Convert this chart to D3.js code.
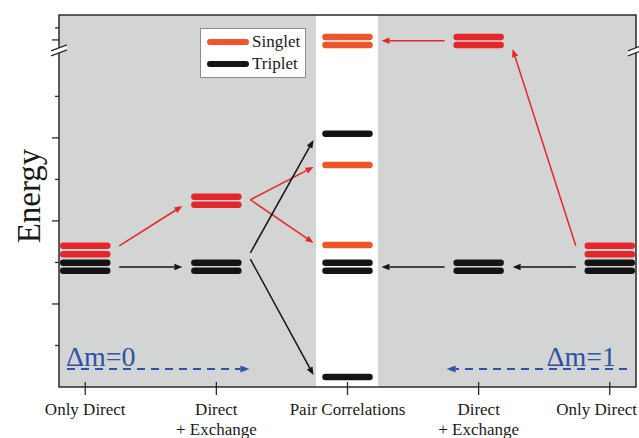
<!DOCTYPE html>
<html><head><meta charset="utf-8">
<script src="https://cdn.jsdelivr.net/npm/d3@7"></script>
<style>html,body{margin:0;padding:0;background:#fff;}svg{display:block;}</style>
</head><body>
<svg id="c" width="639" height="438"></svg>
<script>
// ---- data ----
const categories = ["OD_L", "DE_L", "PC", "DE_R", "OD_R"];
const categoryLabels = [["Only Direct"], ["Direct", "+ Exchange"], ["Pair Correlations"], ["Direct", "+ Exchange"], ["Only Direct"]];
const singletLevels = [[3.40, 3.20], [4.58, 4.39], [8.43, 8.24, 5.35, 3.42], [8.43, 8.24], [3.40, 3.20]];
const tripletLevels = [[2.99, 2.80], [2.99, 2.80], [6.10, 2.99, 2.80, 0.24], [2.99, 2.80], [2.99, 2.80]];
const arrows = [
  {from: "OD_L", e0: 2.89, to: "DE_L", e1: 2.89, kind: "T"},
  {from: "OD_L", e0: 3.40, to: "DE_L", e1: 4.36, kind: "S"},
  {from: "DE_L", e0: 4.51, to: "PC", e1: 5.30, kind: "S"},
  {from: "DE_L", e0: 4.51, to: "PC", e1: 3.47, kind: "S"},
  {from: "DE_L", e0: 3.23, to: "PC", e1: 5.95, kind: "T"},
  {from: "DE_L", e0: 3.08, to: "PC", e1: 0.29, kind: "T"},
  {from: "DE_R", e0: 8.34, to: "PC", e1: 8.34, kind: "S"},
  {from: "OD_R", e0: 3.40, to: "DE_R", e1: 8.14, kind: "S"},
  {from: "OD_R", e0: 2.89, to: "DE_R", e1: 2.89, kind: "T"},
  {from: "DE_R", e0: 2.89, to: "PC", e1: 2.89, kind: "T"}
];
const majorTicks = [2, 4, 6, 8.36];
const minorTicks = [1, 3, 5, 7, 8.65];
const breakValue = 8.05;
const legendItems = ["Singlet", "Triplet"];
const deltaLabels = ["\u0394m=0", "\u0394m=1"];
const deltaSpans = [["OD_L", "DE_L"], ["OD_R", "DE_R"]];
const yDomain = [0, 8.96];

// ---- layout ----
const svg = d3.select("#c");
const W = 639;
const L = 59, R = 636, T = 15, B = 387;
const x = d3.scalePoint().domain(categories).range([L, R]).padding(0.2);
const y = d3.scaleLinear().domain(yDomain).range([B, T]);
const serif = "'Liberation Serif','DejaVu Serif',serif";
const red = "#e5272b", orange = "#ef552b", black = "#141414", blue = "#2f52a6";

svg.append("defs").append("clipPath").attr("id", "pc")
  .append("rect").attr("x", L).attr("y", T).attr("width", R - L).attr("height", B - T);

svg.append("rect").attr("x", L).attr("y", T).attr("width", R - L).attr("height", B - T).attr("fill", "#d3d4d4");
const bw = 62;
svg.append("rect").attr("x", x("PC") - bw / 2 - 0.5).attr("y", T).attr("width", bw).attr("height", B - T).attr("fill", "#ffffff");

const g = svg.append("g").attr("clip-path", "url(#pc)");
const half = 22;
function drawLevels(levels, colorFn) {
  categories.forEach((c, i) => {
    levels[i].forEach(e => {
      g.append("line").attr("x1", x(c) - half).attr("x2", x(c) + half)
        .attr("y1", y(e)).attr("y2", y(e))
        .attr("stroke", colorFn(c)).attr("stroke-width", 6.5).attr("stroke-linecap", "round");
    });
  });
}
drawLevels(singletLevels, c => c === "PC" ? orange : red);
drawLevels(tripletLevels, () => black);

function arrow(x0, y0, x1, y1, color, w, dash, head) {
  const ang = Math.atan2(y1 - y0, x1 - x0);
  const hl = head || 8, hw = (head || 8) * 0.4;
  const bx = x1 - hl * Math.cos(ang), by = y1 - hl * Math.sin(ang);
  svg.append("line").attr("x1", x0).attr("y1", y0).attr("x2", bx).attr("y2", by)
    .attr("stroke", color).attr("stroke-width", w).attr("stroke-dasharray", dash || null);
  const px = -Math.sin(ang) * hw, py = Math.cos(ang) * hw;
  svg.append("path").attr("d", `M${x1},${y1}L${bx + px},${by + py}L${bx - px},${by - py}Z`).attr("fill", color);
}
arrows.forEach(a => {
  const dir = Math.sign(x(a.to) - x(a.from));
  const x0 = x(a.from) + dir * 34, x1 = x(a.to) - dir * 34;
  arrow(x0, y(a.e0), x1, y(a.e1), a.kind === "S" ? red : black, 1.5, null, 8);
});

// frame
svg.append("rect").attr("x", L).attr("y", T).attr("width", R - L).attr("height", B - T)
  .attr("fill", "none").attr("stroke", "#2a2a2a").attr("stroke-width", 1.5);

// y ticks
majorTicks.forEach(t => svg.append("line").attr("x1", L - 7).attr("x2", L).attr("y1", y(t)).attr("y2", y(t)).attr("stroke", "#2a2a2a").attr("stroke-width", 1.3));
minorTicks.forEach(t => svg.append("line").attr("x1", L - 4).attr("x2", L).attr("y1", y(t)).attr("y2", y(t)).attr("stroke", "#2a2a2a").attr("stroke-width", 1.3));

// axis breaks
[L, R].forEach(ax => {
  const yb = y(breakValue);
  svg.append("path").attr("d", `M${ax - 8},${yb + 3}L${ax + 8},${yb - 3}L${ax + 8},${yb - 8}L${ax - 8},${yb - 2}Z`).attr("fill", "#ffffff");
  [0, -5].forEach(o => svg.append("line").attr("x1", ax - 8).attr("x2", ax + 8).attr("y1", yb + 3 + o).attr("y2", yb - 3 + o)
    .attr("stroke", "#2a2a2a").attr("stroke-width", 1.3));
});

// x ticks and labels
categories.forEach((c, i) => {
  svg.append("line").attr("x1", x(c)).attr("x2", x(c)).attr("y1", B - 5).attr("y2", B + 8).attr("stroke", "#2a2a2a").attr("stroke-width", 1.3);
  categoryLabels[i].forEach((s, k) => {
    const t = svg.append("text").attr("x", x(c)).attr("y", 415 + k * 20).attr("text-anchor", "middle")
      .attr("font-family", serif).attr("font-size", 17).attr("fill", "#1a1a1a").text(s);
    const w = t.node().getComputedTextLength();
    if (x(c) + w / 2 > W - 2) t.attr("x", W - 2 - w / 2);
  });
});

// y label
svg.append("text").attr("transform", `translate(40,${y(4.6)}) rotate(-90)`).attr("text-anchor", "middle")
  .attr("font-family", serif).attr("font-size", 33).attr("fill", "#1a1a1a").text("Energy");

// legend
const lg = svg.append("g");
lg.append("rect").attr("x", 200.5).attr("y", 28.5).attr("width", 105).attr("height", 49).attr("fill", "#fff").attr("stroke", "#8a8a8a").attr("stroke-width", 1);
legendItems.forEach((s, i) => {
  const ly = 42 + i * 22;
  lg.append("line").attr("x1", 210).attr("x2", 246).attr("y1", ly).attr("y2", ly)
    .attr("stroke", i === 0 ? orange : black).attr("stroke-width", 6).attr("stroke-linecap", "round");
  lg.append("text").attr("x", 252).attr("y", ly + 5).attr("font-family", serif).attr("font-size", 17).attr("fill", "#1a1a1a").text(s);
});

// delta m annotations
const dy = 369;
arrow(67, dy, x(deltaSpans[0][1]) + 33, dy, blue, 2, "8,6", 9);
svg.append("text").attr("x", 66).attr("y", 366).attr("font-family", serif).attr("font-size", 28).attr("fill", blue).text(deltaLabels[0]);
arrow(627, dy, x(deltaSpans[1][1]) - 32, dy, blue, 2, "8,6", 9);
svg.append("text").attr("x", 616).attr("y", 366).attr("text-anchor", "end").attr("font-family", serif).attr("font-size", 28).attr("fill", blue).text(deltaLabels[1]);
</script>
</body></html>
